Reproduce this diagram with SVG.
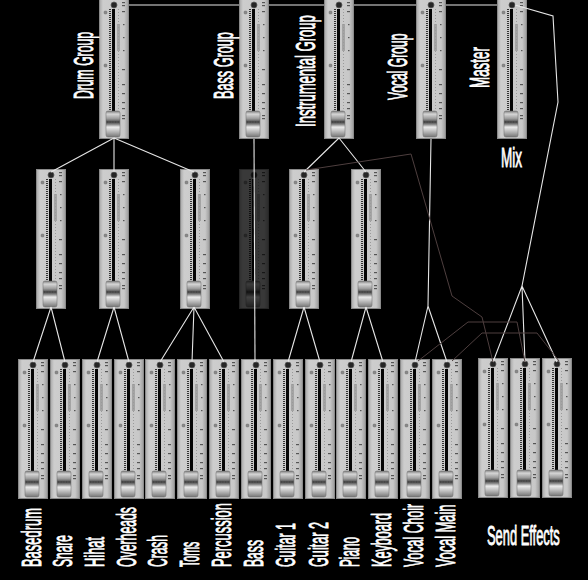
<svg xmlns="http://www.w3.org/2000/svg" width="588" height="580" viewBox="0 0 588 580">
<style>
.lbl{font-family:"Liberation Sans","DejaVu Sans",sans-serif;font-size:28px;fill:#ffffff;stroke:#ffffff;stroke-width:0.9;}
.wire{fill:none;stroke:#e6e6e6;stroke-width:1.1;}
.send{fill:none;stroke:#4e3f3f;stroke-width:1;}
</style>
<defs>
<linearGradient id="body" x1="0" y1="0" x2="1" y2="0">
<stop offset="0" stop-color="#a9a9a9"/>
<stop offset="0.12" stop-color="#cdcdcd"/>
<stop offset="0.85" stop-color="#c8c8c8"/>
<stop offset="1" stop-color="#9c9c9c"/>
</linearGradient>
<linearGradient id="cap" x1="0" y1="0" x2="0" y2="1">
<stop offset="0" stop-color="#7c7c7c"/>
<stop offset="0.12" stop-color="#d6d6d6"/>
<stop offset="0.3" stop-color="#9a9a9a"/>
<stop offset="0.42" stop-color="#4a4a4a"/>
<stop offset="0.5" stop-color="#7a7a7a"/>
<stop offset="0.62" stop-color="#ececec"/>
<stop offset="0.78" stop-color="#bcbcbc"/>
<stop offset="1" stop-color="#767676"/>
</linearGradient>
<symbol id="fader" viewBox="0 0 30 140" width="30" height="140">
<rect x="0.5" y="0.5" width="29" height="139" fill="url(#body)" stroke="#8a8a8a"/>
<circle cx="15" cy="6" r="3" fill="#262626" stroke="#5a5a5a" stroke-width="0.8"/>
<rect x="5" y="12" width="3" height="3" rx="1" fill="#8a8a8a" stroke="#666" stroke-width="0.4"/>
<rect x="5" y="65" width="3" height="3" rx="1" fill="#8a8a8a" stroke="#666" stroke-width="0.4"/>
<line x1="11" y1="10" x2="11" y2="112" stroke="#333" stroke-width="2" stroke-dasharray="1 1"/>
<rect x="13" y="10" width="3" height="103" fill="#050505"/>
<rect x="18" y="25" width="3" height="27" fill="#a4a4a4"/>
<line x1="19.5" y1="10" x2="19.5" y2="112" stroke="#9a9a9a" stroke-width="1" stroke-dasharray="1 2"/>
<g fill="#555">
<rect x="23" y="3" width="3" height="1.2"/>
<rect x="23" y="6" width="3" height="1.2"/>
<rect x="23" y="12" width="3" height="1.2"/>
<rect x="24" y="25" width="1.5" height="1.2"/>
<rect x="24" y="38" width="1.5" height="1.2"/>
<rect x="24" y="51" width="1.5" height="1.2"/>
<rect x="23" y="70" width="3" height="1.2"/>
<rect x="23" y="85" width="3" height="1.2"/>
<rect x="23" y="94" width="3" height="1.2"/>
<rect x="23" y="103" width="3" height="1.2"/>
<rect x="23" y="109" width="3" height="1.2"/>
<rect x="23" y="116" width="3" height="1.2"/>
<rect x="23" y="119" width="3" height="1.2"/>
</g>
<rect x="7" y="112" width="14" height="26" rx="2" fill="url(#cap)" stroke="#6a6a6a" stroke-width="0.5"/>
<line x1="8" y1="123" x2="20" y2="123" stroke="#333" stroke-width="0.8" stroke-dasharray="1 0.6"/>
</symbol>
</defs>
<rect x="0" y="0" width="588" height="580" fill="#000"/>

<g id="drum-group"><use href="#fader" x="99" y="-1"/><text class="lbl" transform="translate(93,99) rotate(-90) scale(0.435,1)">Drum Group</text></g>
<g id="bass-group"><use href="#fader" x="239" y="-1"/><text class="lbl" transform="translate(233,99) rotate(-90) scale(0.453,1)">Bass Group</text></g>
<g id="instrumental-group"><use href="#fader" x="324" y="-1"/><text class="lbl" transform="translate(315,127) rotate(-90) scale(0.467,1)">Instrumental Group</text></g>
<g id="vocal-group"><use href="#fader" x="416" y="-1"/><text class="lbl" transform="translate(407,100) rotate(-90) scale(0.431,1)">Vocal Group</text></g>
<g id="master"><use href="#fader" x="497" y="-1"/><text class="lbl" transform="translate(489,88) rotate(-90) scale(0.479,1)">Master</text><text class="lbl" transform="translate(501,167) scale(0.482,1)">Mix</text></g>

<g id="drum-sub-1"><use href="#fader" x="36" y="169"/></g>
<g id="drum-sub-2"><use href="#fader" x="99" y="169"/></g>
<g id="drum-sub-3"><use href="#fader" x="180" y="169"/></g>
<g id="bass-sub"><use href="#fader" x="239" y="169" opacity="0.28"/></g>
<g id="guitar-sub"><use href="#fader" x="289" y="169"/></g>
<g id="keys-sub"><use href="#fader" x="351" y="169"/></g>

<g id="basedrum"><use href="#fader" x="18" y="359"/><text class="lbl" transform="translate(41,567) rotate(-90) scale(0.462,1)">Basedrum</text></g>
<g id="snare"><use href="#fader" x="50" y="359"/><text class="lbl" transform="translate(72,567) rotate(-90) scale(0.428,1)">Snare</text></g>
<g id="hihat"><use href="#fader" x="82" y="359"/><text class="lbl" transform="translate(104,567) rotate(-90) scale(0.459,1)">Hihat</text></g>
<g id="overheads"><use href="#fader" x="114" y="359"/><text class="lbl" transform="translate(136,567) rotate(-90) scale(0.438,1)">Overheads</text></g>
<g id="crash"><use href="#fader" x="145" y="359"/><text class="lbl" transform="translate(167,567) rotate(-90) scale(0.428,1)">Crash</text></g>
<g id="toms"><use href="#fader" x="177" y="359"/><text class="lbl" transform="translate(199,567) rotate(-90) scale(0.38,1)">Toms</text></g>
<g id="percussion"><use href="#fader" x="209" y="359"/><text class="lbl" transform="translate(231,567) rotate(-90) scale(0.462,1)">Percussion</text></g>
<g id="bass"><use href="#fader" x="241" y="359"/><text class="lbl" transform="translate(263,567) rotate(-90) scale(0.434,1)">Bass</text></g>
<g id="guitar-1"><use href="#fader" x="273" y="359"/><text class="lbl" transform="translate(295,567) rotate(-90) scale(0.442,1)">Guitar 1</text></g>
<g id="guitar-2"><use href="#fader" x="305" y="359"/><text class="lbl" transform="translate(328,567) rotate(-90) scale(0.452,1)">Guitar 2</text></g>
<g id="piano"><use href="#fader" x="336" y="359"/><text class="lbl" transform="translate(359,567) rotate(-90) scale(0.419,1)">Piano</text></g>
<g id="keyboard"><use href="#fader" x="368" y="359"/><text class="lbl" transform="translate(391,567) rotate(-90) scale(0.451,1)">Keyboard</text></g>
<g id="vocal-choir"><use href="#fader" x="400" y="359"/><text class="lbl" transform="translate(423,567) rotate(-90) scale(0.442,1)">Vocal Choir</text></g>
<g id="vocal-main"><use href="#fader" x="432" y="359"/><text class="lbl" transform="translate(455,567) rotate(-90) scale(0.455,1)">Vocal Main</text></g>

<g id="send-effects">
<use href="#fader" x="478" y="358"/>
<use href="#fader" x="510" y="358"/>
<use href="#fader" x="542" y="358"/>
<text class="lbl" transform="translate(487,545) scale(0.46,1)">Send Effects</text>
</g>

<g id="connectors">
<path class="wire" d="M129 5H239M269 5H324M354 5H416M446 5H497"/>
<polyline class="wire" points="515,5 553,16 558,102 522,286"/>
<path class="wire" d="M522 286L493 362M522 286L525 362M522 286L557 362"/>
<path class="wire" d="M114 138L51 172M114 138L114 172M114 138L194 172"/>
<path class="wire" d="M254 139L255 362"/>
<path class="wire" d="M339 138L304 172M339 138L366 172"/>
<path class="wire" d="M431 139L428 306L415 362M428 306L447 362"/>
<path class="wire" d="M51 307L33 362M51 307L65 362"/>
<path class="wire" d="M114 307L97 362M114 307L129 362"/>
<path class="wire" d="M194 307L160 362M194 307L192 362M194 307L224 362"/>
<path class="wire" d="M304 307L288 362M304 307L320 362"/>
<path class="wire" d="M366 307L351 362M366 307L383 362"/>
<polyline class="send" points="306,170 411,154 452,296 482,317 493,362"/>
<polyline class="send" points="418,361 468,322 517,322 525,362"/>
<polyline class="send" points="452,361 482,333 537,333 559,361"/>
</g>
</svg>
